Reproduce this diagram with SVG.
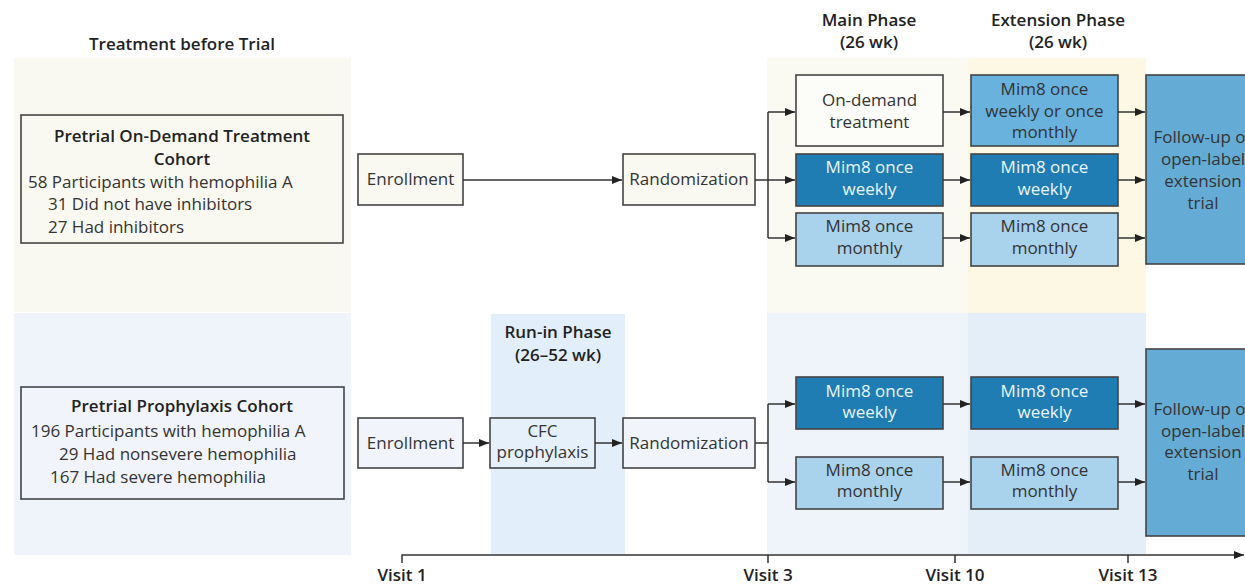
<svg xmlns="http://www.w3.org/2000/svg" width="1245" height="585" viewBox="0 0 1245 585">
<style>
text{font-family:"Open Sans",Lato,"Liberation Sans",sans-serif;font-size:17px;fill:#333}
.b{font-weight:600;fill:#222}
.c{text-anchor:middle}
.w{fill:#eaf5fc}
.box{stroke:#444;stroke-width:1.6}
.cn{stroke:#333;stroke-width:1.5;fill:none}
.beige{fill:#faf9f1}
.lb{fill:#a9d2ec}
.db{fill:#1f7db4}
.mb{fill:#68b2dd}
.fb{fill:#64acd6}
</style>
<defs>
<marker id="ah" markerWidth="10" markerHeight="8" refX="10" refY="4" orient="auto" markerUnits="userSpaceOnUse">
<path d="M0,0 L10,4 L0,8 Z" fill="#222"/>
</marker>
</defs>
<g id="backgrounds">
<rect x="14" y="58" width="337" height="254" fill="#faf9f1"/>
<rect x="14" y="313" width="337" height="242" fill="#eff4fb"/>
<rect x="767" y="58" width="201" height="255" fill="#fbfaf2"/>
<rect x="968" y="58" width="178" height="255" fill="#fcf8e4"/>
<rect x="767" y="313" width="201" height="241" fill="#eff4fb"/>
<rect x="968" y="313" width="178" height="241" fill="#e4eef8"/>
<rect x="491" y="314" width="134" height="240" fill="#e2eef9"/>
</g>
<g id="headers">
<text class="b c" x="182" y="50">Treatment before Trial</text>
<text class="b c" x="869" y="26">Main Phase</text>
<text class="b c" x="869" y="48">(26 wk)</text>
<text class="b c" x="1058" y="26">Extension Phase</text>
<text class="b c" x="1058" y="48">(26 wk)</text>
<text class="b c" x="558" y="338">Run-in Phase</text>
<text class="b c" x="558" y="361">(26–52 wk)</text>
</g>
<g id="cohort-ondemand">
<rect class="box beige" x="21" y="115" width="322" height="128"/>
<text class="b c" x="182" y="142">Pretrial On-Demand Treatment</text>
<text class="b c" x="182" y="165">Cohort</text>
<text x="28" y="188">58 Participants with hemophilia A</text>
<text x="48" y="210">31 Did not have inhibitors</text>
<text x="48" y="233">27 Had inhibitors</text>
</g>
<g id="cohort-prophylaxis">
<rect class="box" fill="#f1f5fb" x="21" y="387" width="323" height="112"/>
<text class="b c" x="182" y="412">Pretrial Prophylaxis Cohort</text>
<text x="31" y="437">196 Participants with hemophilia A</text>
<text x="59" y="460">29 Had nonsevere hemophilia</text>
<text x="50" y="483">167 Had severe hemophilia</text>
</g>
<g id="enroll-top">
<rect class="box beige" x="358" y="154" width="105" height="51"/>
<text class="c" x="410.5" y="185">Enrollment</text>
</g>
<g id="random-top">
<rect class="box beige" x="623" y="154" width="132" height="51"/>
<text class="c" x="689" y="185">Randomization</text>
</g>
<g id="enroll-bottom">
<rect class="box" fill="#f1f5fb" x="358" y="418" width="105" height="50"/>
<text class="c" x="410.5" y="449">Enrollment</text>
</g>
<g id="cfc">
<rect class="box" fill="#e6f0fa" x="490" y="418" width="105" height="50"/>
<text class="c" x="542.5" y="437">CFC</text>
<text class="c" x="542.5" y="458">prophylaxis</text>
</g>
<g id="random-bottom">
<rect class="box" fill="#f1f5fb" x="623" y="418" width="132" height="50"/>
<text class="c" x="689" y="449">Randomization</text>
</g>
<g id="main-ondemand">
<rect class="box" fill="#fcfcf8" x="796" y="75" width="147" height="71"/>
<text class="c" x="869.5" y="106">On-demand</text>
<text class="c" x="869.5" y="128">treatment</text>
</g>
<g id="main-weekly-top">
<rect class="box db" x="796" y="154" width="147" height="52"/>
<text class="c w" x="869.5" y="173">Mim8 once</text>
<text class="c w" x="869.5" y="195">weekly</text>
</g>
<g id="main-monthly-top">
<rect class="box lb" x="796" y="213" width="147" height="53"/>
<text class="c" x="869.5" y="232">Mim8 once</text>
<text class="c" x="869.5" y="254">monthly</text>
</g>
<g id="ext-either-top">
<rect class="box mb" x="971" y="75" width="147" height="71"/>
<text class="c" x="1044.5" y="95">Mim8 once</text>
<text class="c" x="1044.5" y="117">weekly or once</text>
<text class="c" x="1044.5" y="138">monthly</text>
</g>
<g id="ext-weekly-top">
<rect class="box db" x="971" y="154" width="147" height="52"/>
<text class="c w" x="1044.5" y="173">Mim8 once</text>
<text class="c w" x="1044.5" y="195">weekly</text>
</g>
<g id="ext-monthly-top">
<rect class="box lb" x="971" y="213" width="147" height="53"/>
<text class="c" x="1044.5" y="232">Mim8 once</text>
<text class="c" x="1044.5" y="254">monthly</text>
</g>
<g id="followup-top">
<rect class="box fb" x="1146" y="75" width="110" height="189"/>
<text class="c" x="1203" y="143">Follow-up or</text>
<text class="c" x="1203" y="165">open-label</text>
<text class="c" x="1203" y="187">extension</text>
<text class="c" x="1203" y="209">trial</text>
</g>
<g id="main-weekly-bottom">
<rect class="box db" x="796" y="377" width="147" height="52"/>
<text class="c w" x="869.5" y="397">Mim8 once</text>
<text class="c w" x="869.5" y="418">weekly</text>
</g>
<g id="main-monthly-bottom">
<rect class="box lb" x="796" y="457" width="147" height="52"/>
<text class="c" x="869.5" y="476">Mim8 once</text>
<text class="c" x="869.5" y="497">monthly</text>
</g>
<g id="ext-weekly-bottom">
<rect class="box db" x="971" y="377" width="147" height="52"/>
<text class="c w" x="1044.5" y="397">Mim8 once</text>
<text class="c w" x="1044.5" y="418">weekly</text>
</g>
<g id="ext-monthly-bottom">
<rect class="box lb" x="971" y="457" width="147" height="52"/>
<text class="c" x="1044.5" y="476">Mim8 once</text>
<text class="c" x="1044.5" y="497">monthly</text>
</g>
<g id="followup-bottom">
<rect class="box fb" x="1146" y="349" width="110" height="187"/>
<text class="c" x="1203" y="415">Follow-up or</text>
<text class="c" x="1203" y="437">open-label</text>
<text class="c" x="1203" y="458">extension</text>
<text class="c" x="1203" y="480">trial</text>
</g>
<g id="connectors">
<path class="cn" d="M463,180 H622" marker-end="url(#ah)"/>
<path class="cn" d="M755,180 H768 M768,112 V238"/>
<path class="cn" d="M768,112 H795" marker-end="url(#ah)"/>
<path class="cn" d="M768,180 H795" marker-end="url(#ah)"/>
<path class="cn" d="M768,238 H795" marker-end="url(#ah)"/>
<path class="cn" d="M943,112 H970" marker-end="url(#ah)"/>
<path class="cn" d="M943,180 H970" marker-end="url(#ah)"/>
<path class="cn" d="M943,238 H970" marker-end="url(#ah)"/>
<path class="cn" d="M1118,112 H1145" marker-end="url(#ah)"/>
<path class="cn" d="M1118,180 H1145" marker-end="url(#ah)"/>
<path class="cn" d="M1118,238 H1145" marker-end="url(#ah)"/>
<path class="cn" d="M463,443 H489" marker-end="url(#ah)"/>
<path class="cn" d="M595,443 H622" marker-end="url(#ah)"/>
<path class="cn" d="M755,443 H768 M768,404 V482"/>
<path class="cn" d="M768,404 H795" marker-end="url(#ah)"/>
<path class="cn" d="M768,482 H795" marker-end="url(#ah)"/>
<path class="cn" d="M943,404 H970" marker-end="url(#ah)"/>
<path class="cn" d="M943,482 H970" marker-end="url(#ah)"/>
<path class="cn" d="M1118,404 H1145" marker-end="url(#ah)"/>
<path class="cn" d="M1118,482 H1145" marker-end="url(#ah)"/>
</g>
<g id="timeline">
<path class="cn" d="M402,563 V555 H1244" marker-end="url(#ah)"/>
<path class="cn" d="M768,555 V563 M955,555 V563 M1128,555 V563"/>
<text class="b c" x="402" y="581">Visit 1</text>
<text class="b c" x="768" y="581">Visit 3</text>
<text class="b c" x="955" y="581">Visit 10</text>
<text class="b c" x="1128" y="581">Visit 13</text>
</g>
</svg>
